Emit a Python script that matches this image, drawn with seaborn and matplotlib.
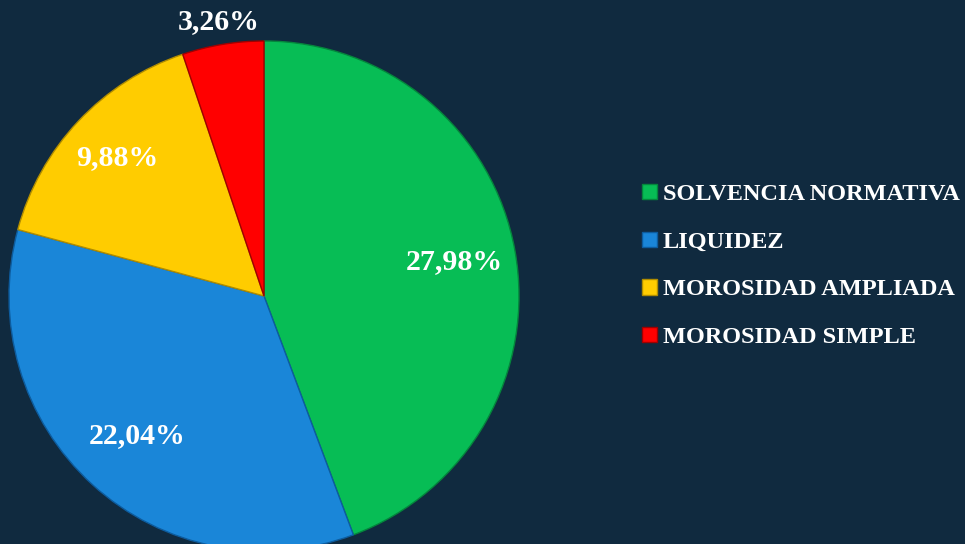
import numpy as np
import matplotlib
matplotlib.use("Agg")
import matplotlib.pyplot as plt
import seaborn as sns

categories = ["SOLVENCIA NORMATIVA", "LIQUIDEZ", "MOROSIDAD AMPLIADA", "MOROSIDAD SIMPLE"]
values = [27.98, 22.04, 9.88, 3.26]
value_labels = ["27,98%", "22,04%", "9,88%", "3,26%"]
colors = ["#07BD55", "#1A86D8", "#FFCC00", "#FF0000"]
edge_colors = ["#04863C", "#0D5C9E", "#B08C00", "#A00000"]
label_dist = [0.76, 0.74, 0.79, 1.09]

BG = "#102A3F"

sns.set_theme(style="dark")
plt.rcParams["font.family"] = ["Liberation Serif", "DejaVu Serif"]
plt.rcParams["font.weight"] = "bold"

fig = plt.figure(figsize=(9.65, 5.44), dpi=100, facecolor=BG)
W, H = 965, 544

# pie centre ~ (264, 296) px, radius ~255 px
cx, cy, r = 264, 296, 255
ax = fig.add_axes([(cx - r) / W, (H - cy - r) / H, 2 * r / W, 2 * r / H])
ax.set_facecolor(BG)

wedges, _ = ax.pie(
    values,
    colors=colors,
    startangle=90,
    counterclock=False,
    radius=1.0,
    wedgeprops=dict(linewidth=1.0),
)
for w, ec in zip(wedges, edge_colors):
    w.set_edgecolor(ec)

ax.set_xlim(-1, 1)
ax.set_ylim(-1, 1)
ax.set_aspect("equal")
ax.axis("off")

# value labels placed along each wedge's mid angle
for w, txt, d in zip(wedges, value_labels, label_dist):
    ang = np.deg2rad((w.theta1 + w.theta2) / 2)
    ax.text(d * np.cos(ang), d * np.sin(ang), txt,
            ha="center", va="center", color="white",
            fontsize=21.5, fontweight="bold", clip_on=False)

leg = fig.legend(
    wedges, categories,
    loc="center left",
    bbox_to_anchor=(642 / W, 1 - 266 / H),
    frameon=False,
    fontsize=17.5,
    handlelength=0.6,
    handleheight=0.6,
    handletextpad=0.25,
    labelspacing=1.08,
    borderpad=0,
    borderaxespad=0,
)
for t in leg.get_texts():
    t.set_color("white")
    t.set_fontweight("bold")

fig.savefig("out.png", dpi=100, facecolor=BG)
